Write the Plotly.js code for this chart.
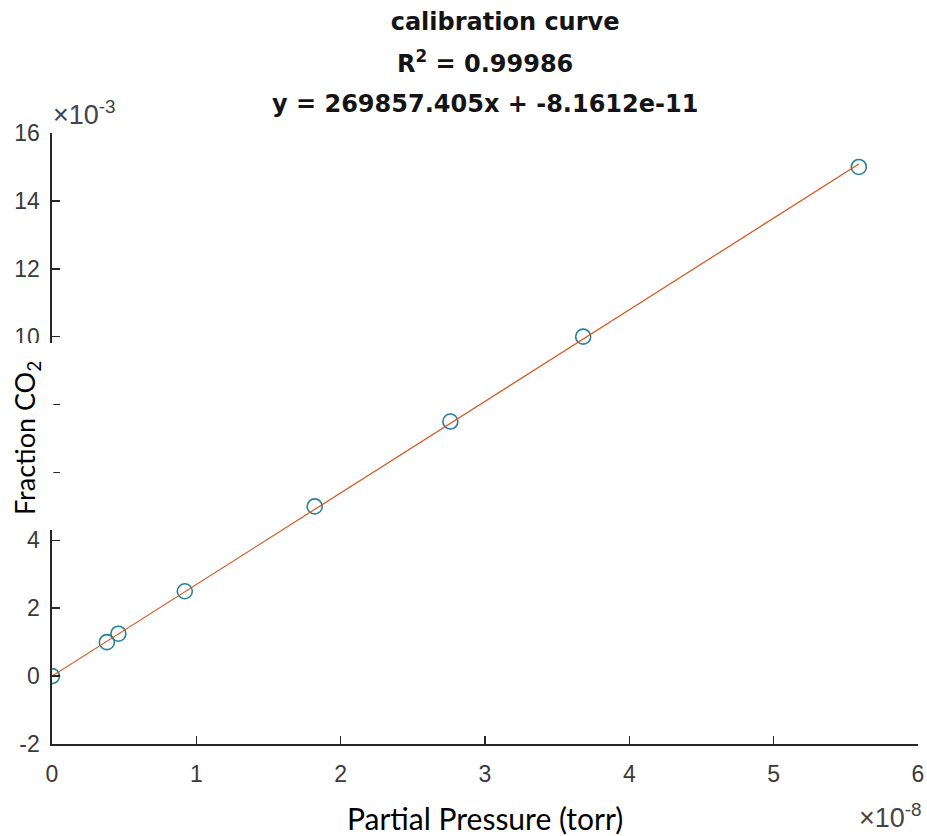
<!DOCTYPE html>
<html>
<head>
<meta charset="utf-8">
<script src="https://cdn.plot.ly/plotly-3.0.1.min.js"></script>
<style>
  html, body { margin: 0; padding: 0; background: #fff; }
  #chart { width: 927px; height: 836px; }
</style>
</head>
<body>
<div id="chart"></div>
<script>
// Calibration standards: partial pressure (torr) vs. CO2 fraction
const pressure = [0, 0.38e-8, 0.46e-8, 0.92e-8, 1.82e-8, 2.76e-8, 3.68e-8, 5.59e-8];
const fractionCO2 = [0, 1.0e-3, 1.25e-3, 2.5e-3, 5.0e-3, 7.5e-3, 10.0e-3, 15.0e-3];

// Linear fit reported in the title
const fitSlope = 269857.405;
const fitIntercept = -8.1612e-11;
const rSquared = 0.99986;

// Axis ticks, shown as mantissas with a shared exponent
const xTickNums = [0, 1, 2, 3, 4, 5, 6];
const xExponent = -8;
const yTickNums = [-2, 0, 2, 4, 6, 8, 10, 12, 14, 16];
const yExponent = -3;

const xScale = Math.pow(10, xExponent);
const yScale = Math.pow(10, yExponent);

// Fitted line spans the measured pressure range
const fitX = [Math.min(...pressure), Math.max(...pressure)];
const fitY = fitX.map(x => fitSlope * x + fitIntercept);

// Plot-area geometry in pixels
const W = 927, H = 836;
const M = { l: 52, r: 9, t: 133, b: 92 };
const plotW = W - M.l - M.r;
const plotH = H - M.t - M.b;
const px2paperX = px => (px - M.l) / plotW;
const px2paperY = py => (H - M.b - py) / plotH;

const axisColor = '#262626';
const tickFont = { family: 'Liberation Sans, Arial, sans-serif', size: 23, color: '#3a3a3a' };
const expFont = { family: 'Liberation Sans, Arial, sans-serif', size: 27, color: '#444' };
const titleFont = { family: 'DejaVu Sans, sans-serif', size: 24, color: '#141414', weight: 'bold' };

const traces = [
  {
    x: pressure,
    y: fractionCO2,
    type: 'scatter',
    mode: 'markers',
    marker: { symbol: 'circle-open', size: 15, color: '#26809a', line: { width: 1.6, color: '#26809a' } },
    hoverinfo: 'x+y',
    showlegend: false
  },
  {
    x: fitX,
    y: fitY,
    type: 'scatter',
    mode: 'lines',
    line: { color: '#D95319', width: 1.2 },
    hoverinfo: 'skip',
    showlegend: false
  }
];

const layout = {
  width: W,
  height: H,
  margin: M,
  paper_bgcolor: '#fff',
  plot_bgcolor: '#fff',
  showlegend: false,
  title: {
    text: 'calibration curve',
    font: titleFont,
    x: (M.l + plotW / 2) / W,
    xanchor: 'center',
    xref: 'paper',
    y: 1 - 21.5 / H,
    yanchor: 'middle',
    yref: 'container'
  },
  xaxis: {
    range: [xTickNums[0] * xScale, xTickNums[xTickNums.length - 1] * xScale],
    tickmode: 'array',
    tickvals: xTickNums.map(v => v * xScale),
    ticktext: xTickNums.map(String),
    ticks: 'inside',
    ticklen: 8,
    tickwidth: 1.5,
    tickcolor: axisColor,
    showline: true,
    linecolor: axisColor,
    linewidth: 1.6,
    mirror: false,
    showgrid: false,
    zeroline: false,
    tickfont: tickFont,
    ticklabelstandoff: 9,
    fixedrange: true
  },
  yaxis: {
    range: [yTickNums[0] * yScale, yTickNums[yTickNums.length - 1] * yScale],
    tickmode: 'array',
    tickvals: yTickNums.map(v => v * yScale),
    ticktext: yTickNums.map(String),
    ticks: 'inside',
    ticklen: 8,
    tickwidth: 1.5,
    tickcolor: axisColor,
    showline: true,
    linecolor: axisColor,
    linewidth: 1.6,
    mirror: false,
    showgrid: false,
    zeroline: false,
    tickfont: tickFont,
    ticklabelstandoff: 6,
    fixedrange: true
  },
  shapes: [
    // White panel behind the y-axis label
    {
      type: 'rect', layer: 'above', xref: 'paper', yref: 'paper',
      x0: px2paperX(0), x1: px2paperX(53.3),
      y0: px2paperY(530), y1: px2paperY(343),
      fillcolor: '#fff', line: { width: 0 }
    }
  ],
  annotations: [
    {
      text: 'R<sup>2</sup> = ' + rSquared,
      xref: 'paper', yref: 'paper',
      x: 0.5, y: px2paperY(62),
      xanchor: 'center', yanchor: 'middle',
      showarrow: false, font: titleFont
    },
    {
      text: 'y = ' + fitSlope.toFixed(3) + 'x + ' + fitIntercept.toExponential(4),
      xref: 'paper', yref: 'paper',
      x: 0.5, y: px2paperY(103.5),
      xanchor: 'center', yanchor: 'middle',
      showarrow: false, font: titleFont
    },
    {
      text: '×10<sup>' + yExponent + '</sup>',
      xref: 'paper', yref: 'paper',
      x: px2paperX(51), y: px2paperY(113),
      xanchor: 'left', yanchor: 'middle',
      showarrow: false, font: expFont
    },
    {
      text: '×10<sup>' + xExponent + '</sup>',
      xref: 'paper', yref: 'paper',
      x: px2paperX(924), y: px2paperY(816),
      xanchor: 'right', yanchor: 'middle',
      showarrow: false, font: expFont
    },
    {
      text: 'Partial Pressure (torr)',
      xref: 'paper', yref: 'paper',
      x: px2paperX(485), y: px2paperY(818),
      xanchor: 'center', yanchor: 'middle',
      showarrow: false, font: { family: 'Lato, Calibri, sans-serif', size: 30, color: '#000' }
    },
    {
      text: 'Fraction CO<sub>2</sub>',
      xref: 'paper', yref: 'paper',
      x: px2paperX(26), y: px2paperY(438),
      xanchor: 'center', yanchor: 'middle',
      textangle: -90,
      showarrow: false, font: { family: 'Lato, Calibri, sans-serif', size: 27, color: '#000' }
    }
  ]
};

Plotly.newPlot('chart', traces, layout, { displayModeBar: false, staticPlot: true });
</script>
</body>
</html>
